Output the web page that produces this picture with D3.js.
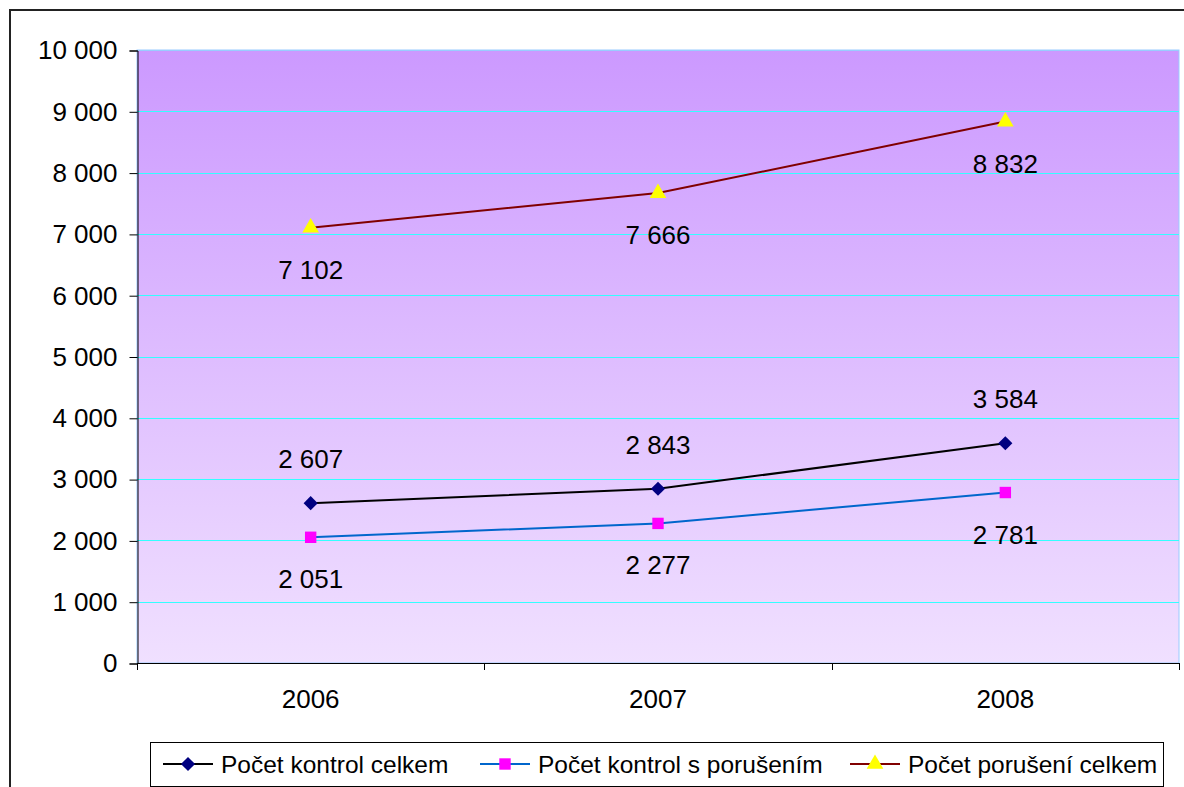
<!DOCTYPE html>
<html lang="cs">
<head>
<meta charset="utf-8">
<title>Kontroly 2006-2008</title>
<script src="https://cdnjs.cloudflare.com/ajax/libs/d3/7.8.5/d3.min.js"></script>
<style>
  body { margin: 0; background: #fff; }
  svg text { font-family: "Liberation Sans", Arial, sans-serif; fill: #000; }
</style>
</head>
<body>
<svg id="chart" width="1184" height="787"></svg>
<script>
// data
let years = ["2006", "2007", "2008"];
let kontrolCelkem = [2607, 2843, 3584];
let kontrolSPorusenim = [2051, 2277, 2781];
let poruseniCelkem = [7102, 7666, 8832];
let yTicks = [0, 1000, 2000, 3000, 4000, 5000, 6000, 7000, 8000, 9000, 10000];
let seriesNames = ["Počet kontrol celkem", "Počet kontrol s porušením", "Počet porušení celkem"];

let svg = d3.select('#chart');
let plotLeft = 137, plotRight = 1179, plotTop = 50, plotBottom = 663;

let x = d3.scaleBand().domain(years).range([plotLeft, plotRight]);
let y = d3.scaleLinear().domain([0, 10000]).range([plotBottom, plotTop]);
let fmt = v => d3.format(",")(v).replace(/,/g, " ");

// outer frame
svg.append('path')
    .attr('d', 'M10,800 L10,10 L1200,10')
    .attr('fill', 'none')
    .attr('stroke', '#222')
    .attr('stroke-width', 2);

// plot background gradient
let grad = svg.append('defs').append('linearGradient')
    .attr('id', 'bg').attr('x1', 0).attr('y1', 0).attr('x2', 0).attr('y2', 1);
grad.append('stop').attr('offset', '0%').attr('stop-color', '#CC99FF');
grad.append('stop').attr('offset', '100%').attr('stop-color', '#F0E0FF');

svg.append('rect')
    .attr('x', plotLeft).attr('y', plotTop)
    .attr('width', plotRight - plotLeft).attr('height', plotBottom - plotTop)
    .attr('fill', 'url(#bg)')
    .attr('stroke', '#99CCFF')
    .attr('stroke-width', 1);

// gridlines
svg.append('g').selectAll('line')
    .data(yTicks.filter(d => d > 0))
    .join('line')
    .attr('x1', plotLeft).attr('x2', plotRight)
    .attr('y1', d => Math.round(y(d)) + 0.5).attr('y2', d => Math.round(y(d)) + 0.5)
    .attr('stroke', d => d === 10000 ? '#99CCFF' : '#33FFFF')
    .attr('stroke-width', 1);

// y axis
let yAxis = d3.axisLeft(y).tickValues(yTicks).tickSize(8).tickPadding(12).tickFormat(fmt);
let gy = svg.append('g').attr('transform', `translate(${plotLeft + 0.5},0.5)`).call(yAxis);
gy.select('.domain').attr('stroke', '#000');
gy.selectAll('.tick line').attr('stroke', '#000');
gy.selectAll('text').style('font-size', '26px').attr('fill', '#000');

// x axis, ticks at category boundaries
let gx = svg.append('g');
gx.append('line')
    .attr('x1', plotLeft).attr('x2', plotRight)
    .attr('y1', plotBottom + 0.5).attr('y2', plotBottom + 0.5)
    .attr('stroke', '#000');
let bounds = years.map(d => x(d)).concat([plotRight]);
gx.selectAll('.xt').data(bounds).join('line')
    .attr('x1', d => Math.round(d) + 0.5).attr('x2', d => Math.round(d) + 0.5)
    .attr('y1', plotBottom).attr('y2', plotBottom + 7)
    .attr('stroke', '#000');
gx.selectAll('text').data(years).join('text')
    .attr('x', d => x(d) + x.bandwidth() / 2)
    .attr('y', 708)
    .attr('text-anchor', 'middle')
    .style('font-size', '26px')
    .text(d => d);

// series
let series = [
    { name: seriesNames[0], values: kontrolCelkem, line: '#000000', fill: '#000080', shape: d3.symbolSquare, size: 100, rot: 45, dy: -35 },
    { name: seriesNames[1], values: kontrolSPorusenim, line: '#0066CC', fill: '#FF00FF', shape: d3.symbolSquare, size: 130, rot: 0, dy: 51 },
    { name: seriesNames[2], values: poruseniCelkem, line: '#800000', fill: '#FFFF00', shape: d3.symbolTriangle, size: 120, rot: 0, dy: 51 }
];

let cx = i => x(years[i]) + x.bandwidth() / 2;
let line = d3.line().x((d, i) => cx(i)).y(d => y(d));

series.forEach(s => {
    let g = svg.append('g');
    g.append('path')
        .datum(s.values)
        .attr('d', line)
        .attr('fill', 'none')
        .attr('stroke', s.line)
        .attr('stroke-width', 2);
    g.selectAll('path.m').data(s.values).join('path')
        .attr('class', 'm')
        .attr('transform', (d, i) => `translate(${cx(i)},${y(d)}) rotate(${s.rot})`)
        .attr('d', d3.symbol().type(s.shape).size(s.size))
        .attr('fill', s.fill);
    g.selectAll('text').data(s.values).join('text')
        .attr('x', (d, i) => cx(i))
        .attr('y', d => y(d) + s.dy)
        .attr('text-anchor', 'middle')
        .style('font-size', '26px')
        .text(fmt);
});

// legend
let lg = svg.append('g');
lg.append('rect')
    .attr('x', 150.5).attr('y', 742.5)
    .attr('width', 1013).attr('height', 44)
    .attr('fill', '#fff')
    .attr('stroke', '#000');
let legendX = [163, 480, 850];
series.forEach((s, i) => {
    let lx = legendX[i], ly = 764;
    lg.append('line')
        .attr('x1', lx).attr('x2', lx + 50)
        .attr('y1', ly).attr('y2', ly)
        .attr('stroke', s.line).attr('stroke-width', 2);
    lg.append('path')
        .attr('transform', `translate(${lx + 25},${ly}) rotate(${s.rot})`)
        .attr('d', d3.symbol().type(s.shape).size(s.size))
        .attr('fill', s.fill);
    lg.append('text')
        .attr('x', lx + 58).attr('y', ly + 9)
        .style('font-size', '24.5px')
        .text(s.name);
});
</script>
</body>
</html>
